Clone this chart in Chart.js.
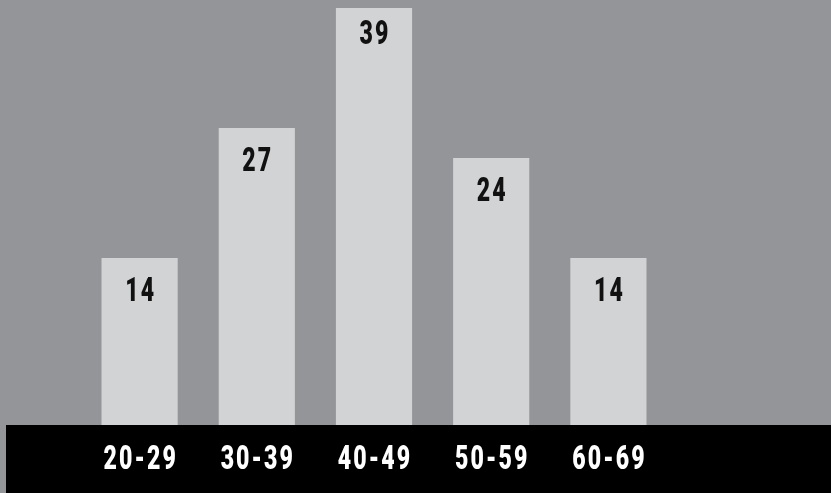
<!DOCTYPE html>
<html>
<head>
<meta charset="utf-8">
<script src="https://cdn.jsdelivr.net/npm/chart.js@4"></script>
<style>
  html, body { margin: 0; padding: 0; background: #939598; }
  #wrap { width: 831px; height: 493px; position: relative; }
</style>
</head>
<body>
<div id="wrap"><canvas id="ageChart" width="831" height="493"></canvas></div>
<script>
const ageGroups = ["20-29", "30-39", "40-49", "50-59", "60-69"];
const counts = [14, 27, 39, 24, 14];

const Y_MIN = -2.7;
const Y_MAX = 39.8;

// narrow bold lettering: no condensed font installed, so squeeze horizontally
function drawCondensed(ctx, text, x, y, color) {
    ctx.save();
    ctx.translate(x, y);
    ctx.scale(0.7, 1);
    ctx.font = "900 33px Roboto, 'Liberation Sans', sans-serif";
    ctx.letterSpacing = "3px";
    ctx.fillStyle = color;
    ctx.textAlign = "center";
    ctx.textBaseline = "middle";
    ctx.fillText(text, 1.5, 0);
    ctx.restore();
}

// black strip under the bars with the category labels inside
const bandPlugin = {
    id: "band",
    beforeDraw(chart) {
        const ctx = chart.ctx;
        ctx.save();
        ctx.fillStyle = "#000000";
        ctx.fillRect(6, chart.chartArea.bottom, chart.width - 6, chart.height - chart.chartArea.bottom);
        ctx.restore();
    },
    afterDraw(chart) {
        const xScale = chart.scales.x;
        xScale.ticks.forEach((t, i) => {
            const label = chart.data.labels[t.value];
            drawCondensed(chart.ctx, label, xScale.getPixelForTick(i), chart.chartArea.bottom + 36, "#ffffff");
        });
    }
};

// value printed inside the top of each bar
const valuePlugin = {
    id: "values",
    afterDatasetsDraw(chart) {
        const meta = chart.getDatasetMeta(0);
        meta.data.forEach((bar, i) => {
            // tallest bar touches the top edge, its label sits a bit higher
            const y = bar.y < 40 ? bar.y + 28 : bar.y + 35;
            drawCondensed(chart.ctx, String(counts[i]), bar.x, y, "#111111");
        });
    }
};

new Chart(document.getElementById("ageChart"), {
    type: "bar",
    data: {
        labels: ageGroups,
        datasets: [{
            data: counts,
            base: Y_MIN,
            backgroundColor: "#d1d3d4",
            borderWidth: 0,
            barPercentage: 0.65,
            categoryPercentage: 1.0
        }]
    },
    options: {
        responsive: false,
        animation: false,
        layout: { padding: { left: 81, right: 164, top: 0, bottom: 68 } },
        plugins: { legend: { display: false }, tooltip: { enabled: false } },
        scales: {
            x: {
                grid: { display: false, drawTicks: false },
                border: { display: false },
                ticks: { display: false }
            },
            y: {
                display: false,
                min: Y_MIN,
                max: Y_MAX
            }
        }
    },
    plugins: [bandPlugin, valuePlugin]
});
</script>
</body>
</html>
